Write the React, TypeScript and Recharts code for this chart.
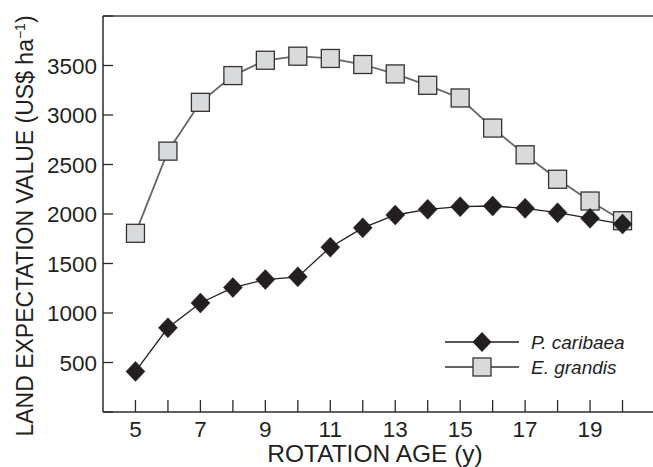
import React from 'react';
import { LineChart, Line, XAxis, YAxis, ReferenceLine } from 'recharts';

const ages = [5, 6, 7, 8, 9, 10, 11, 12, 13, 14, 15, 16, 17, 18, 19, 20];
const pCaribaea = [410, 851, 1101, 1257, 1338, 1365, 1665, 1860, 1990, 2047, 2074, 2081, 2057, 2013, 1956, 1898];
const eGrandis = [1805, 2635, 3128, 3398, 3553, 3594, 3571, 3510, 3415, 3300, 3172, 2868, 2598, 2351, 2131, 1932];
const xTicks = [5, 6, 7, 8, 9, 10, 11, 12, 13, 14, 15, 16, 17, 18, 19, 20];
const yTicks = [0, 500, 1000, 1500, 2000, 2500, 3000, 3500, 4000];
const seriesNames = ['P. caribaea', 'E. grandis'];

const data = ages.map((a, i) => ({ age: a, pc: pCaribaea[i], eg: eGrandis[i] }));

const FONT = '"Liberation Sans", Arial, sans-serif';
const AXIS = '#2b2b2b';
const DARK = '#231f20';
const SQFILL = '#d9dadc';

const XTick = (props: any) => {
  const { x, y, payload } = props;
  const v = payload.value;
  return (
    <g>
      <line x1={x} y1={y} x2={x} y2={y - 12} stroke={AXIS} strokeWidth={1.3} />
      {v % 2 === 1 && (
        <text x={x} y={y + 25} textAnchor="middle" fontSize={22.5} fontFamily={FONT} fill={DARK}>
          {v}
        </text>
      )}
    </g>
  );
};

const YTick = (props: any) => {
  const { x, y, payload } = props;
  const v = payload.value;
  return (
    <g>
      <line x1={x} y1={y} x2={x + 10} y2={y} stroke={AXIS} strokeWidth={1.3} />
      {v > 0 && v < 4000 && (
        <text x={x - 6} y={y} dy="0.36em" textAnchor="end" fontSize={22.5} fontFamily={FONT} fill={DARK}>
          {v}
        </text>
      )}
    </g>
  );
};

const Square = (props: any) => {
  const { cx, cy, index } = props;
  if (cx == null || cy == null) return <g key={`s${index}`} />;
  return <rect key={`s${index}`} x={cx - 9} y={cy - 9} width={18} height={18} fill={SQFILL} stroke="#333" strokeWidth={1.3} />;
};

const Diamond = (props: any) => {
  const { cx, cy, index } = props;
  if (cx == null || cy == null) return <g key={`d${index}`} />;
  return (
    <path
      key={`d${index}`}
      d={`M${cx},${cy - 10} L${cx + 9.5},${cy} L${cx},${cy + 10} L${cx - 9.5},${cy} Z`}
      fill={DARK}
      stroke={DARK}
      strokeWidth={0.5}
    />
  );
};

export default function App() {
  return (
    <div style={{ position: 'absolute', left: 0, top: 0, width: 653, height: 467, overflow: 'hidden', background: '#fff' }}>
      <LineChart width={655} height={467} data={data} margin={{ top: 16, right: 0, bottom: 0, left: 0 }}>
        <XAxis
          dataKey="age"
          type="number"
          domain={[4, 21]}
          ticks={xTicks}
          interval={0}
          height={55}
          tickSize={0}
          tickMargin={0}
          tickLine={false}
          tick={<XTick />}
          axisLine={{ stroke: AXIS, strokeWidth: 1.5 }}
        />
        <YAxis
          type="number"
          domain={[0, 4000]}
          ticks={yTicks}
          interval={0}
          width={103}
          tickSize={0}
          tickMargin={0}
          tickLine={false}
          tick={<YTick />}
          axisLine={{ stroke: AXIS, strokeWidth: 1.5 }}
        />
        <ReferenceLine y={4000} stroke="#444" strokeWidth={1.5} />
        <Line
          type="linear"
          dataKey="eg"
          name={seriesNames[1]}
          stroke="#666"
          strokeWidth={1.8}
          isAnimationActive={false}
          dot={Square}
          activeDot={false}
        />
        <Line
          type="linear"
          dataKey="pc"
          name={seriesNames[0]}
          stroke={DARK}
          strokeWidth={1.3}
          isAnimationActive={false}
          dot={Diamond}
          activeDot={false}
        />
      </LineChart>
      <svg width={653} height={467} style={{ position: 'absolute', left: 0, top: 0, pointerEvents: 'none' }}>
        <g transform="translate(440,330)">
          <line x1={5} y1={12} x2={79} y2={12} stroke={DARK} strokeWidth={1.3} />
          <path d="M42,2 L51.5,12 L42,22 L32.5,12 Z" fill={DARK} />
          <text x={91} y={12} dy="0.36em" fontSize={19} fontStyle="italic" fontFamily={FONT} fill={DARK}>
            {seriesNames[0]}
          </text>
          <line x1={5} y1={37} x2={79} y2={37} stroke="#666" strokeWidth={1.8} />
          <rect x={33} y={28} width={18} height={18} fill={SQFILL} stroke="#333" strokeWidth={1.3} />
          <text x={91} y={37} dy="0.36em" fontSize={19} fontStyle="italic" fontFamily={FONT} fill={DARK}>
            {seriesNames[1]}
          </text>
        </g>
        <text
          transform="translate(24.5,226) rotate(-90)"
          textAnchor="middle"
          dy="0.36em"
          fontSize={23}
          fontFamily={FONT}
          fill={DARK}
        >
          LAND EXPECTATION VALUE (US$ ha
          <tspan dy={-8} fontSize={14}>−1</tspan>
          <tspan dy={8}>)</tspan>
        </text>
        <text x={375} y={462} textAnchor="middle" fontSize={24.5} fontFamily={FONT} fill={DARK}>
          ROTATION AGE (y)
        </text>
      </svg>
    </div>
  );
}
